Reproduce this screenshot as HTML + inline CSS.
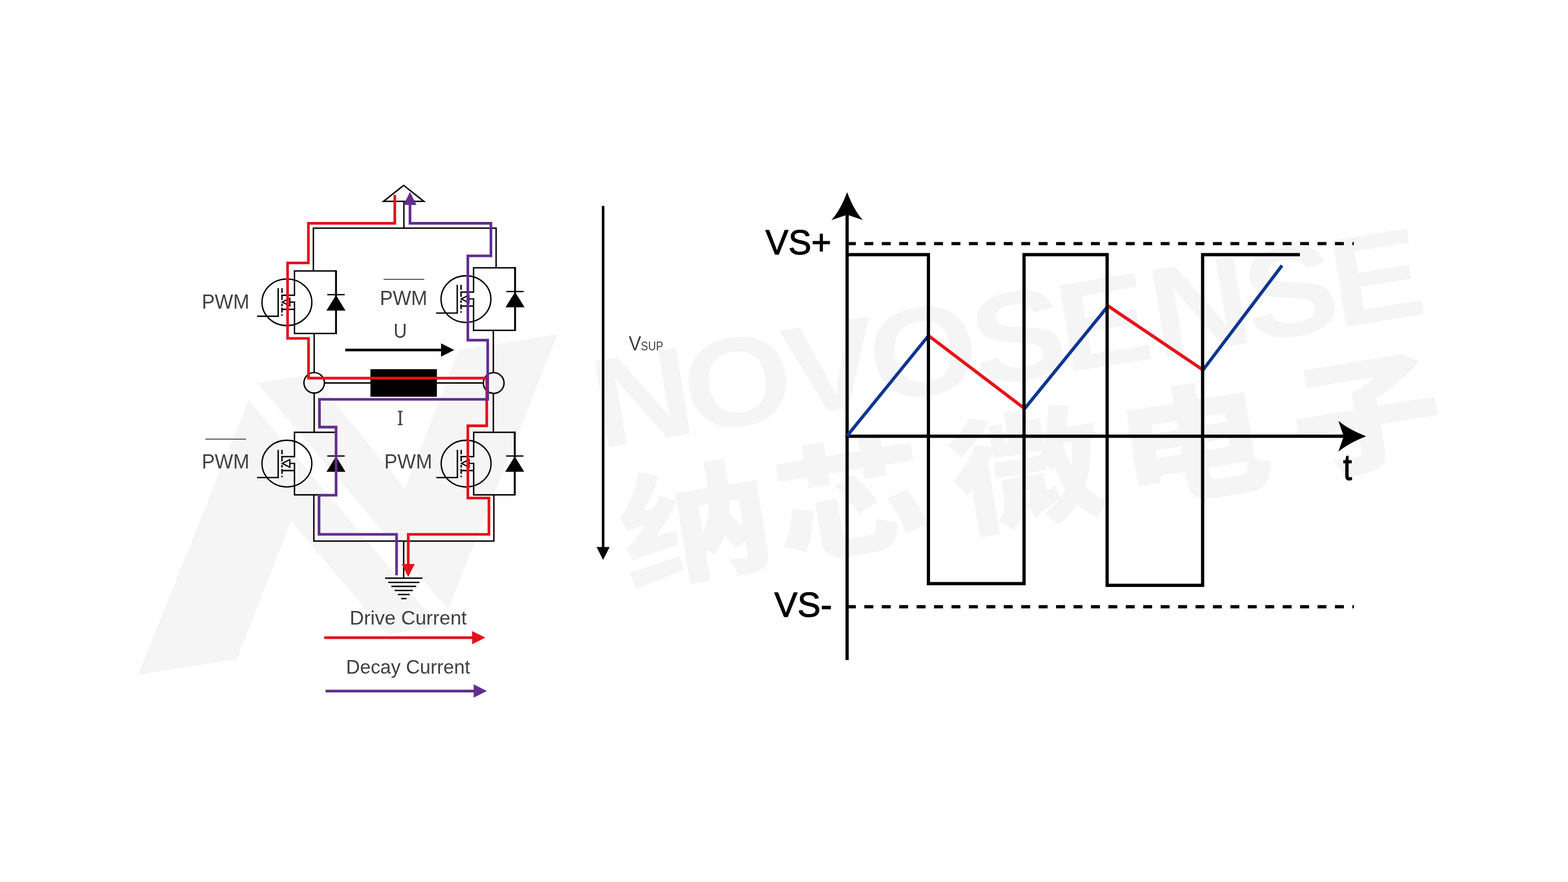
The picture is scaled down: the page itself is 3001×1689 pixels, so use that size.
<!DOCTYPE html>
<html lang="en">
<head>
<meta charset="utf-8">
<title>H-bridge drive and decay current</title>
<style>
  html, body { margin:0; padding:0; background:#ffffff; }
  body { width:3001px; height:1689px; overflow:hidden; }
  svg { display:block; position:absolute; left:0; top:0; }
  text { font-family:"Liberation Sans", "Noto Sans CJK SC", sans-serif; }
  .lbl { fill:#404040; }
  #labels, #legend { will-change:opacity; }
  .ax { fill:#000000; stroke:#000000; stroke-width:1.3px; stroke-linejoin:round; }
  .wm { fill:#f5f5f5; font-weight:bold; }
</style>
</head>
<body>
<svg width="3001" height="1689" viewBox="0 0 3001 1689">
<rect x="0" y="0" width="3001" height="1689" fill="#ffffff"/>

<g id="watermark" fill="#f5f5f5">
  <polygon points="263.8,1292.5 475.6,765.8 840,1199.1 740.7,1215.2 557.2,998 453.6,1261.9"/>
  <polygon points="492.5,733.4 596,717.2 775.1,935.1 878.5,670.3 1067.4,640 857.6,1167.2"/>
  <g transform="translate(1162.7,856.9) rotate(-9.28)">
    <text class="wm" transform="scale(1.1,1)" x="-13.6 147.3 325.9 474.1 655.2 805.8 969.1 1135.6 1286.7" y="0" font-size="243">NOVOSENSE</text>
    <text class="wm" transform="scale(1.22,1)" x="-2.9 243 524.2 787.7 1063.1" y="262" font-size="240" style="font-weight:900">纳芯微电子</text>
  </g>
</g>

<g id="circuit" fill="none" stroke="#040000" stroke-width="2.7" stroke-linecap="butt" stroke-linejoin="miter">
  <!-- supply symbol -->
  <path d="M772.6,355 L811.2,385.6 H734 Z" fill="#ffffff" stroke-width="2.8"/>
  <path d="M773,386.5 V436.9"/>
  <!-- top rail -->
  <path d="M599.8,519 V436.9 H949.5 V512"/>
  <!-- middle verticals -->
  <path d="M601.3,638.6 V714"/>
  <path d="M944.2,631.6 V714"/>
  <path d="M601.3,752 V828"/>
  <path d="M944.2,752 V828"/>
  <!-- bottom rail -->
  <path d="M600.7,947.6 V1036.2 H945.2 V947.6"/>
  <path d="M772.6,1036.2 V1107"/>
  <!-- ground -->
  <path d="M737,1107.1 H808.6 M743,1115.2 H802.8 M749.1,1122.9 H796.5 M755.3,1130.7 H790.3 M761.5,1138.5 H784.1 M767.7,1146.2 H777.9" stroke-width="2.6"/>
  <!-- node circles -->
  <circle cx="601.3" cy="733.1" r="19.6"/>
  <circle cx="944.9" cy="733.5" r="19.8"/>
  <!-- load wire -->
  <path d="M620.2,733.3 H709 M836.2,733.3 H925"/>
  <rect x="709" y="707" width="127.2" height="52.8" fill="#040000" stroke="none"/>

<g transform="translate(563.6,518.9)">
  <ellipse cx="-14.5" cy="60" rx="47.7" ry="44.7" fill="none" stroke-width="2.6"/>
  <path d="M-31.2,32.8 V86.7 H-71.7"/>
  <path d="M-23.9,32.8 V42.2 M-23.9,45.2 V55.6 M-23.9,62.5 V67.5 M-23.9,70.2 V79.5 M-23.9,83.2 V86"/>
  <path d="M-25.2,46.5 H0 M-25.2,73.4 H0"/>
  <path d="M-23.4,59.6 L-8.9,52.3 V66.9 Z M-8.9,59.6 H0" stroke-width="2.4"/>
  <path d="M0,47.8 V0 H79.5 M0,58.3 V119.8 H79.5"/>
  <path d="M79.5,-1.3 V121.1" stroke-width="3.6"/>
  <path d="M62.8,45.4 H96.1" stroke-width="2.4"/>
  <path d="M79.5,46.3 L97.6,75.8 H61.2 Z" fill="#040000" stroke="none"/>
</g>
<g transform="translate(906.3,512.8)">
  <ellipse cx="-14.5" cy="60" rx="47.7" ry="44.7" fill="none" stroke-width="2.6"/>
  <path d="M-31.2,32.8 V86.7 H-71.7"/>
  <path d="M-23.9,32.8 V42.2 M-23.9,45.2 V55.6 M-23.9,62.5 V67.5 M-23.9,70.2 V79.5 M-23.9,83.2 V86"/>
  <path d="M-25.2,46.5 H0 M-25.2,73.4 H0"/>
  <path d="M-23.4,59.6 L-8.9,52.3 V66.9 Z M-8.9,59.6 H0" stroke-width="2.4"/>
  <path d="M0,47.8 V0 H79.5 M0,58.3 V119.8 H79.5"/>
  <path d="M79.5,-1.3 V121.1" stroke-width="3.6"/>
  <path d="M62.8,45.4 H96.1" stroke-width="2.4"/>
  <path d="M79.5,46.3 L97.6,75.8 H61.2 Z" fill="#040000" stroke="none"/>
</g>
<g transform="translate(563.6,827.8)">
  <ellipse cx="-14.5" cy="60" rx="47.7" ry="44.7" fill="none" stroke-width="2.6"/>
  <path d="M-31.2,33.8 V86.7 H-71.7"/>
  <path d="M-23.9,33.8 V42.2 M-23.9,45.2 V55.6 M-23.9,62.5 V67.5 M-23.9,70.2 V79.5 M-23.9,83.2 V86"/>
  <path d="M-25.2,46.5 H0 M-25.2,73.4 H0"/>
  <path d="M-23.4,59.6 L-8.9,52.3 V66.9 Z M-8.9,59.6 H0" stroke-width="2.4"/>
  <path d="M0,47.8 V0 H79.5 M0,58.3 V119.8 H79.5"/>
  <path d="M79.5,-1.3 V121.1" stroke-width="3.6"/>
  <path d="M62.8,45.4 H96.1" stroke-width="2.4"/>
  <path d="M79.5,46.3 L97.6,75.8 H61.2 Z" fill="#040000" stroke="none"/>
</g>
<g transform="translate(906.6,827.8)">
  <ellipse cx="-14.5" cy="60" rx="47.7" ry="44.7" fill="none" stroke-width="2.6"/>
  <path d="M-31.2,33.8 V86.7 H-71.7"/>
  <path d="M-23.9,33.8 V42.2 M-23.9,45.2 V55.6 M-23.9,62.5 V67.5 M-23.9,70.2 V79.5 M-23.9,83.2 V86"/>
  <path d="M-25.2,46.5 H0 M-25.2,73.4 H0"/>
  <path d="M-23.4,59.6 L-8.9,52.3 V66.9 Z M-8.9,59.6 H0" stroke-width="2.4"/>
  <path d="M0,47.8 V0 H78.6 M0,58.3 V119.8 H78.6"/>
  <path d="M78.6,-1.3 V121.1" stroke-width="3.6"/>
  <path d="M61.9,45.4 H95.2" stroke-width="2.4"/>
  <path d="M78.6,46.3 L96.7,75.8 H60.3 Z" fill="#040000" stroke="none"/>
</g></g>

<g id="uarrow">
  <path d="M660.7,670.3 H846" stroke="#040000" stroke-width="5" fill="none"/>
  <path d="M844.1,657.6 L869.4,670.3 L844.1,683 Z" fill="#040000"/>
</g>

<g id="paths" fill="none" stroke-width="5.1" stroke-linejoin="miter" stroke-linecap="butt">
  <path stroke="#e5121a" d="M755.6,373.2 V427.6 H590.2 V503.5 H550.4 V648 H590.5 V724.1 H931.6 V815.4 H895.4 V953.8 H935.8 V1023.3 H781.3 V1082"/>
  <path fill="#e5121a" stroke="none" d="M768.9,1080 H793.7 L781.3,1105 Z"/>
  <path stroke="#632d8f" d="M759,1101.8 V1023.3 H610.6 V948.2 H643.2 V817.9 H611.4 V764.8 H933.4 V651.4 H895.4 V490 H939.6 V427.6 H784.7 V391"/>
  <path fill="#632d8f" stroke="none" d="M772.3,392.5 H797.1 L784.7,367.4 Z"/>
</g>

<g id="legend">
  <path d="M620.4,1221.1 H906" stroke="#e5121a" stroke-width="5.3" fill="none"/>
  <path d="M903.5,1208.4 L929,1221.1 L903.5,1233.8 Z" fill="#e5121a"/>
  <path d="M623.2,1323.3 H909" stroke="#632d8f" stroke-width="5.3" fill="none"/>
  <path d="M906.5,1310.6 L931.8,1323.3 L906.5,1336 Z" fill="#632d8f"/>
  <text class="lbl" x="669.3" y="1196.1" font-size="37.5" textLength="224" lengthAdjust="spacingAndGlyphs">Drive Current</text>
  <text class="lbl" x="662.3" y="1290.1" font-size="37.5" textLength="237.5" lengthAdjust="spacingAndGlyphs">Decay Current</text>
</g>

<g id="labels">
  <text class="lbl" x="386.2" y="590.9" font-size="39.3" textLength="91" lengthAdjust="spacingAndGlyphs">PWM</text>
  <text class="lbl" x="726.9" y="584.0" font-size="39.3" textLength="91" lengthAdjust="spacingAndGlyphs">PWM</text>
  <path d="M734.1,534.9 H811.9" stroke="#404040" stroke-width="1.9" fill="none"/>
  <text class="lbl" x="386.2" y="897.1" font-size="39.3" textLength="91" lengthAdjust="spacingAndGlyphs">PWM</text>
  <path d="M393,840.9 H470.9" stroke="#404040" stroke-width="1.9" fill="none"/>
  <text class="lbl" x="735.6" y="897.1" font-size="39.3" textLength="91.5" lengthAdjust="spacingAndGlyphs">PWM</text>
  <text class="lbl" transform="translate(753.3,646.9) scale(0.9,1)" font-size="39.3">U</text>
  <text class="lbl" transform="translate(760.2,813.7) scale(0.8,1)" font-size="36.4" stroke="#404040" stroke-width="0.5" style="font-family:'DejaVu Serif','Liberation Serif',serif">I</text>
  <text class="lbl" transform="translate(1203.2,671) scale(0.92,1)" font-size="39">V</text>
  <text class="lbl" transform="translate(1226.6,671.2) scale(0.846,1)" font-size="24.6">SUP</text>
</g>
<g id="vsup">
  <path d="M1154.3,394.2 V1049" stroke="#040000" stroke-width="4.9" fill="none"/>
  <path d="M1141.8,1047.5 H1166.8 L1154.3,1072.3 Z" fill="#040000"/>
</g>

<g id="chart" fill="none" stroke="#000000" stroke-linejoin="miter" stroke-linecap="butt">
  <path d="M1624.30,466.5 H1638.00 M1654.26,466.5 H1671.36 M1687.62,466.5 H1704.72 M1720.98,466.5 H1738.08 M1754.34,466.5 H1771.44 M1787.70,466.5 H1804.80 M1821.06,466.5 H1838.16 M1854.42,466.5 H1871.52 M1887.78,466.5 H1904.88 M1921.14,466.5 H1938.24 M1954.50,466.5 H1971.60 M1987.86,466.5 H2004.96 M2021.22,466.5 H2038.32 M2054.58,466.5 H2071.68 M2087.94,466.5 H2105.04 M2121.30,466.5 H2138.40 M2154.66,466.5 H2171.76 M2188.02,466.5 H2205.12 M2221.38,466.5 H2238.48 M2254.74,466.5 H2271.84 M2288.10,466.5 H2305.20 M2321.46,466.5 H2338.56 M2354.82,466.5 H2371.92 M2388.18,466.5 H2405.28 M2421.54,466.5 H2438.64 M2454.90,466.5 H2472.00 M2488.26,466.5 H2505.36 M2521.62,466.5 H2538.72 M2554.98,466.5 H2572.08 M2588.34,466.5 H2591.20" stroke-width="6.2"/>
  <path d="M1624.30,1161.8 H1638.00 M1654.26,1161.8 H1671.36 M1687.62,1161.8 H1704.72 M1720.98,1161.8 H1738.08 M1754.34,1161.8 H1771.44 M1787.70,1161.8 H1804.80 M1821.06,1161.8 H1838.16 M1854.42,1161.8 H1871.52 M1887.78,1161.8 H1904.88 M1921.14,1161.8 H1938.24 M1954.50,1161.8 H1971.60 M1987.86,1161.8 H2004.96 M2021.22,1161.8 H2038.32 M2054.58,1161.8 H2071.68 M2087.94,1161.8 H2105.04 M2121.30,1161.8 H2138.40 M2154.66,1161.8 H2171.76 M2188.02,1161.8 H2205.12 M2221.38,1161.8 H2238.48 M2254.74,1161.8 H2271.84 M2288.10,1161.8 H2305.20 M2321.46,1161.8 H2338.56 M2354.82,1161.8 H2371.92 M2388.18,1161.8 H2405.28 M2421.54,1161.8 H2438.64 M2454.90,1161.8 H2472.00 M2488.26,1161.8 H2505.36 M2521.62,1161.8 H2538.72 M2554.98,1161.8 H2572.08 M2588.34,1161.8 H2591.20" stroke-width="6.2"/>
  <path d="M1621.3,410 V1264.1" stroke-width="6.2"/>
  <path d="M1618,835.4 H2573" stroke-width="6.2"/>
  <path d="M1621.3,367.9 Q1634,402 1651.4,421.5 L1621.3,411.3 L1591.2,421.5 Q1608.6,402 1621.3,367.9 Z" fill="#000000" stroke="none"/>
  <path d="M2614.8,835.4 Q2581,822.4 2561.5,805.8 L2571.6,835.4 L2561.5,865 Q2581,848.4 2614.8,835.4 Z" fill="#000000" stroke="none"/>
  <path d="M1621.3,834.7 L1777,642.9" stroke="#0d3592" stroke-width="6.2"/>
  <path d="M1777,642.6 L1959.9,781.6" stroke="#e5121a" stroke-width="6.2"/>
  <path d="M1959.9,784 L2118.9,588.3" stroke="#0d3592" stroke-width="6.2"/>
  <path d="M2118.9,584.6 L2301.7,708" stroke="#e5121a" stroke-width="6.2"/>
  <path d="M2301.7,709.5 L2453.7,508.4" stroke="#0d3592" stroke-width="6.2"/>
  <path d="M1621.3,487.6 H1776.9 V1117.7 H1959.9 V487.6 H2118.9 V1120.8 H2301.7 V487.6 H2487.9" stroke-width="6.2"/>
</g>
<g id="chartlabels">
  <text class="ax" x="1465.0" y="487.3" font-size="66.5" textLength="126.2" lengthAdjust="spacingAndGlyphs">VS+</text>
  <text class="ax" x="1482.0" y="1180.7" font-size="66.5" textLength="110.6" lengthAdjust="spacingAndGlyphs">VS-</text>
  <text class="ax" transform="translate(2570.6,918.9) scale(0.88,1)" font-size="69.7">t</text>
</g>
</svg>
</body>
</html>
